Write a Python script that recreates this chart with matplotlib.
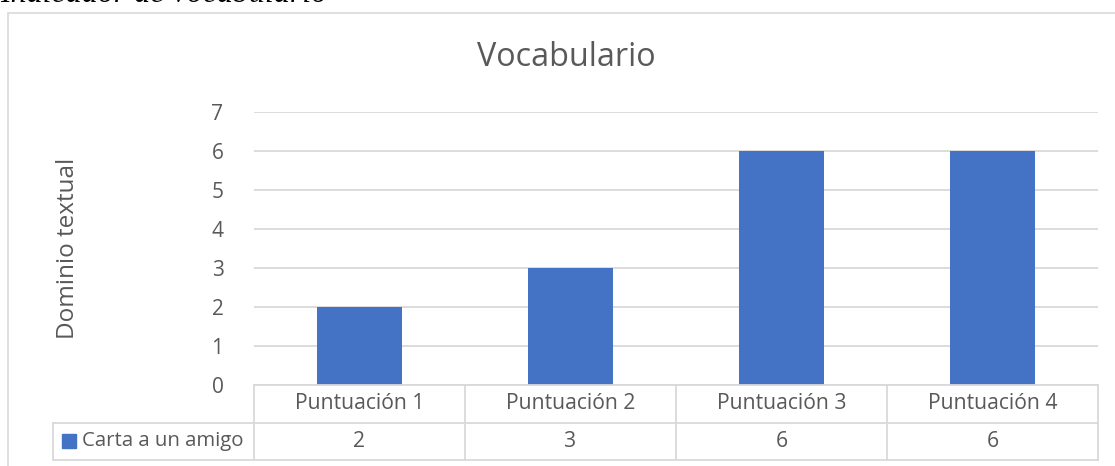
import matplotlib
matplotlib.use("Agg")
import matplotlib.pyplot as plt
import matplotlib.transforms as mtransforms
from matplotlib.patches import Rectangle

# datos
categorias = ["Puntuación 1", "Puntuación 2", "Puntuación 3", "Puntuación 4"]
serie = "Carta a un amigo"
valores = [2, 3, 6, 6]
titulo = "Vocabulario"
etiqueta_y = "Dominio textual"
texto_superior = "Indicador de vocabulario"

azul = "#4472C4"
gris_texto = "#595959"
gris_linea = "#D9D9D9"

plt.rcParams['font.family'] = ['Open Sans', 'DejaVu Sans']

W, H = 1115, 466
fig = plt.figure(figsize=(W / 100, H / 100), dpi=100)

def fx(px):
	return px / W

def fy(py):
	return 1 - py / H

# marco del grafico
fig.patches.append(Rectangle((fx(8), fy(470)), fx(1120 - 8), fy(13) - fy(470),
	transform=fig.transFigure, fill=False, edgecolor=gris_linea, linewidth=1.2))

# texto cortado arriba
fig.text(fx(0), fy(2.5), texto_superior, fontsize=23, family='Liberation Serif',
	style='italic', color='black', ha='left', va='baseline')

left, right, top, bottom = 254, 1098, 112, 385
ax = fig.add_axes([fx(left), fy(bottom), fx(right - left), fy(top) - fy(bottom)])

x = list(range(len(categorias)))
ax.bar(x, valores, width=0.4, color=azul, zorder=3)
ax.set_xlim(-0.5, len(categorias) - 0.5)
ax.set_ylim(0, 7)
ax.set_yticks(range(0, 8))
ax.yaxis.grid(True, color=gris_linea, linewidth=1.3, zorder=0)
ax.set_xticks([])
for s in ax.spines.values():
	s.set_visible(False)
ax.tick_params(axis='y', length=0, pad=22, labelsize=15, labelcolor=gris_texto)

fig.text(fx(68), fy(248), etiqueta_y, fontsize=17.5, color=gris_texto, rotation=90,
	ha='center', va='center')
fig.text(fx(566), fy(58), titulo, fontsize=23.3, color=gris_texto, ha='center', va='center')

# tabla de datos
fila = 37.5 / (bottom - top)
tr = mtransforms.blended_transform_factory(ax.transData, ax.transAxes)
n = len(categorias)
y1, y2 = -fila, -2 * fila
ax.plot([-0.5, n - 0.5], [0, 0], transform=tr, color=gris_linea, lw=1.3, clip_on=False, zorder=4)
ancho_leyenda = (left - 53) / (right - left) * n
x_ley = -0.5 - ancho_leyenda
for yy in (y1, y2):
	ax.plot([x_ley, n - 0.5], [yy, yy], transform=tr, color=gris_linea, lw=1.3, clip_on=False)
for i in range(n + 1):
	ax.plot([i - 0.5, i - 0.5], [0, y2], transform=tr, color=gris_linea, lw=1.3, clip_on=False)
ax.plot([x_ley, x_ley], [y1, y2], transform=tr, color=gris_linea, lw=1.3, clip_on=False)

for i, (c, v) in enumerate(zip(categorias, valores)):
	ax.text(i, y1 / 2, c, transform=tr, ha='center', va='center', fontsize=15.2, color=gris_texto)
	ax.text(i, (y1 + y2) / 2, str(v), transform=tr, ha='center', va='center', fontsize=15.2, color=gris_texto)

fig.patches.append(Rectangle((fx(62), fy(448)), fx(14), fy(434) - fy(448),
	transform=fig.transFigure, color=azul))
fig.text(fx(82), fy(441), serie, fontsize=14.7, color=gris_texto, ha='left', va='center')

fig.savefig("out.png", dpi=100)
